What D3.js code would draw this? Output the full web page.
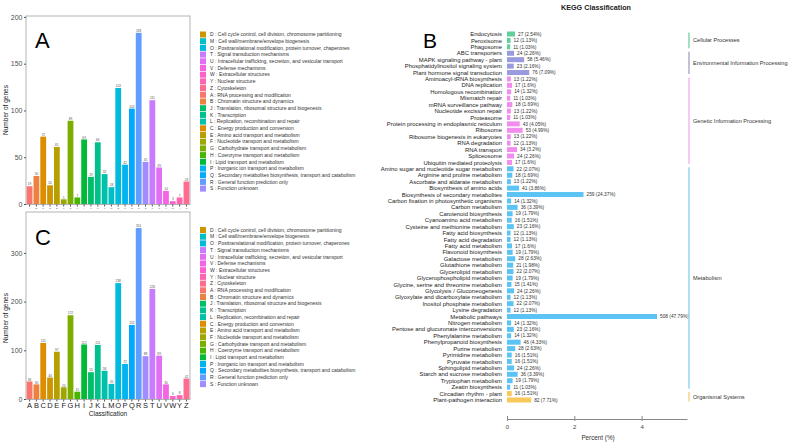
<html>
<script src='https://cdnjs.cloudflare.com/ajax/libs/d3/7.8.5/d3.min.js'></script>
<style>
body {margin:0; background:#fff;}
text {font-family: 'Liberation Sans', Arial, sans-serif;}
</style>
<body onload='init()'>
<svg width=793 height=444></svg>
<script>
// COG classes
var cogLetters = ["A","B","C","D","E","F","G","H","I","J","K","L","M","O","P","Q","R","S","T","U","V","W","Y","Z"];
var cogA = [19,30,72,20,61,5,89,7,69,29,66,32,18,124,42,102,183,45,111,39,14,3,7,24];
var cogC = [36,30,115,44,97,24,172,15,112,55,111,58,31,238,72,152,351,88,226,89,30,6,8,42];
var legendOrder = ["D","M","O","T","U","V","W","Y","Z","A","B","J","K","L","C","E","F","G","H","I","P","Q","R","S"];
var cogDesc = {
  D:"Cell cycle control, cell division, chromosome partitioning",
  M:"Cell wall/membrane/envelope biogenesis",
  O:"Posttranslational modification, protein turnover, chaperones",
  T:"Signal transduction mechanisms",
  U:"Intracellular trafficking, secretion, and vesicular transport",
  V:"Defense mechanisms",
  W:"Extracellular structures",
  Y:"Nuclear structure",
  Z:"Cytoskeleton",
  A:"RNA processing and modification",
  B:"Chromatin structure and dynamics",
  J:"Translation, ribosomal structure and biogenesis",
  K:"Transcription",
  L:"Replication, recombination and repair",
  C:"Energy production and conversion",
  E:"Amino acid transport and metabolism",
  F:"Nucleotide transport and metabolism",
  G:"Carbohydrate transport and metabolism",
  H:"Coenzyme transport and metabolism",
  I:"Lipid transport and metabolism",
  P:"Inorganic ion transport and metabolism",
  Q:"Secondary metabolites biosynthesis, transport and catabolism",
  R:"General function prediction only",
  S:"Function unknown"
};
var ticksA = [0,50,100,150,200];
var ticksC = [0,100,200,300];

// KEGG
var keggNames = ["Endocytosis","Peroxisome","Phagosome",
 "ABC transporters","MAPK signaling pathway - plant","Phosphatidylinositol signaling system","Plant hormone signal transduction",
 "Aminoacyl-tRNA biosynthesis","DNA replication","Homologous recombination","Mismatch repair","mRNA surveillance pathway","Nucleotide excision repair","Proteasome","Protein processing in endoplasmic reticulum","Ribosome","Ribosome biogenesis in eukaryotes","RNA degradation","RNA transport","Spliceosome","Ubiquitin mediated proteolysis",
 "Amino sugar and nucleotide sugar metabolism","Arginine and proline metabolism","Ascorbate and aldarate metabolism","Biosynthesis of amino acids","Biosynthesis of secondary metabolites","Carbon fixation in photosynthetic organisms","Carbon metabolism","Carotenoid biosynthesis","Cyanoamino acid metabolism","Cysteine and methionine metabolism","Fatty acid biosynthesis","Fatty acid degradation","Fatty acid metabolism","Flavonoid biosynthesis","Galactose metabolism","Glutathione metabolism","Glycerolipid metabolism","Glycerophospholipid metabolism","Glycine, serine and threonine metabolism","Glycolysis / Gluconeogenesis","Glyoxylate and dicarboxylate metabolism","Inositol phosphate metabolism","Lysine degradation","Metabolic pathways","Nitrogen metabolism","Pentose and glucuronate interconversions","Phenylalanine metabolism","Phenylpropanoid biosynthesis","Purine metabolism","Pyrimidine metabolism","Pyruvate metabolism","Sphingolipid metabolism","Starch and sucrose metabolism","Tryptophan metabolism","Zeatin biosynthesis",
 "Circadian rhythm - plant","Plant-pathogen interaction"];
var keggCounts = [27,12,11, 24,58,23,76, 13,17,14,11,18,13,11,43,53,13,12,34,24,17,
 22,18,13,41,259,14,36,19,16,23,12,12,17,19,28,21,22,19,15,24,12,22,12,508,14,23,14,46,28,16,16,24,36,19,11, 16,82];
var keggPct = [2.54,1.13,1.03, 2.26,5.46,2.16,7.09, 1.22,1.6,1.32,1.03,1.69,1.22,1.03,4.05,4.99,1.22,1.13,3.2,2.26,1.6,
 2.07,1.69,1.22,3.86,24.37,1.32,3.39,1.79,1.51,2.16,1.13,1.13,1.6,1.79,2.63,1.98,2.07,1.79,1.41,2.26,1.13,2.07,1.13,47.79,1.32,2.16,1.32,4.33,2.63,1.51,1.51,2.26,3.39,1.79,1.03, 1.51,7.71];
var groupNames = ["Cellular Processes","Environmental Information Processing","Genetic Information Processing","Metabolism","Organismal Systems"];
var groupSizes = [3,4,14,35,2];
var percentTicks = [0,2,4];

var groupBar = ["#5fcf9c","#9a9ade","#f28df0","#5cc4f4","#f9c85a"];
var groupLine = ["#8ed6b4","#b4b4c8","#f2bff0","#9dd9f0","#f5d690"];

// ggplot-like hue colour (polar LUV -> sRGB)
function hclLuv(h, c, l) {
  var hr = h * Math.PI / 180, u = c * Math.cos(hr), v = c * Math.sin(hr);
  var Xn = 0.95047, Yn = 1, Zn = 1.08883;
  var un = 4*Xn/(Xn+15*Yn+3*Zn), vn = 9*Yn/(Xn+15*Yn+3*Zn);
  var Y = l > 8 ? Math.pow((l+16)/116, 3) : l/903.3;
  var up = u/(13*l) + un, vp = v/(13*l) + vn;
  var X = 9*Y*up/(4*vp), Z = Y*(12 - 3*up - 20*vp)/(4*vp);
  var lin = [3.2404542*X - 1.5371385*Y - 0.4985314*Z,
            -0.9692660*X + 1.8760108*Y + 0.0415560*Z,
             0.0556434*X - 0.2040259*Y + 1.0572252*Z];
  var rgb = lin.map(function(x){
    x = x <= 0.0031308 ? 12.92*x : 1.055*Math.pow(x, 1/2.4) - 0.055;
    return Math.max(0, Math.min(255, Math.round(x*255)));
  });
  return d3.rgb(rgb[0], rgb[1], rgb[2]).formatHex();
}

async function init() {
var svg = d3.select("svg");
var n = cogLetters.length;
var cogColor = {};
cogLetters.forEach(function(k, i){ cogColor[k] = hclLuv(15 + 360*i/n, 100, 65); });

var x = d3.scaleBand().domain(cogLetters).range([26,190]).paddingInner(0.15).paddingOuter(0.1);

function cogPanel(vals, ticks, yScale, top, bottom, showLetters, letter, letterY, titleY, legTop) {
  var g = svg.append("g");
  g.append("rect").attr("x",26).attr("y",top).attr("width",164).attr("height",bottom-top)
    .attr("fill","#fff").attr("stroke","#a0a0a0").attr("stroke-width",0.8);
  g.selectAll(".bar").data(vals).enter().append("rect")
    .attr("x", function(d,i){ return x(cogLetters[i]); })
    .attr("width", x.bandwidth())
    .attr("y", function(d){ return yScale(d); })
    .attr("height", function(d){ return yScale(0) - yScale(d); })
    .attr("fill", function(d,i){ return cogColor[cogLetters[i]]; });
  g.selectAll(".vl").data(vals).enter().append("text")
    .attr("x", function(d,i){ return x(cogLetters[i]) + x.bandwidth()/2; })
    .attr("y", function(d){ return yScale(d) - 0.8; })
    .attr("text-anchor","middle").attr("font-size",3.2).attr("fill","#555")
    .text(function(d){ return d; });
  var ya = g.append("g").attr("transform","translate(26,0)")
    .call(d3.axisLeft(yScale).tickValues(ticks).tickSize(2).tickPadding(1.5));
  ya.select(".domain").remove();
  ya.selectAll("line").attr("stroke","#555");
  ya.selectAll("text").attr("font-size",7).attr("fill","#4d4d4d").attr("font-family","Liberation Sans, Arial");
  var xa = g.append("g").attr("transform","translate(0," + bottom + ")")
    .call(d3.axisBottom(x).tickSize(2).tickPadding(showLetters ? 1 : 0.5));
  xa.select(".domain").remove();
  xa.selectAll("line").attr("stroke","#555");
  xa.selectAll("text").attr("font-size", showLetters ? 7.5 : 2.5).attr("fill", showLetters ? "#222" : "#555")
    .attr("font-family","Liberation Sans, Arial");
  g.append("text").attr("transform","translate(8," + titleY + ") rotate(-90)")
    .attr("text-anchor","middle").attr("font-size",6.5).attr("fill","#222").text("Number of genes");
  g.append("text").attr("x",35).attr("y",letterY).attr("font-size",22).attr("fill","#000").text(letter);
  // legend
  var lg = g.append("g");
  legendOrder.forEach(function(k, i){
    var yy = legTop + i*6.7;
    lg.append("rect").attr("x",200).attr("y",yy-3).attr("width",6).attr("height",6).attr("fill",cogColor[k]);
    lg.append("text").attr("x",210).attr("y",yy+1.7).attr("font-size",5).attr("fill","#333")
      .text(k + " : " + cogDesc[k]);
  });
}

var yA = d3.scaleLinear().domain([0,201]).range([204,16]);
var yC = d3.scaleLinear().domain([0,384]).range([399,212]);
cogPanel(cogA, ticksA, yA, 16, 204.5, false, "A", 48, 110, 34.5);
cogPanel(cogC, ticksC, yC, 212, 399.5, true, "C", 245, 318, 230);
svg.append("text").attr("x",108).attr("y",416).attr("text-anchor","middle")
  .attr("font-size",6.5).attr("fill","#222").text("Classification");

// KEGG panel
var groupOf = [];
groupSizes.forEach(function(s, gi){ for (var j=0;j<s;j++) groupOf.push(gi); });
var y = d3.scaleBand().domain(keggNames).range([30.8, 403.2]).paddingInner(0.22).paddingOuter(0.11);
var xp = d3.scaleLinear().domain([0,47.79]).range([507,657]);
var kg = svg.append("g");
kg.append("text").attr("x",596).attr("y",10).attr("text-anchor","middle").attr("font-size",7.2)
  .attr("font-weight","bold").attr("fill","#222").text("KEGG Classification");
kg.append("text").attr("x",423).attr("y",48).attr("font-size",21).attr("fill","#000").text("B");
kg.selectAll(".kb").data(keggPct).enter().append("rect")
  .attr("x", xp(0)).attr("y", function(d,i){ return y(keggNames[i]); })
  .attr("width", function(d){ return xp(d) - xp(0); }).attr("height", y.bandwidth())
  .attr("fill", function(d,i){ return groupBar[groupOf[i]]; });
kg.selectAll(".kn").data(keggNames).enter().append("text")
  .attr("x",502).attr("y", function(d){ return y(d) + y.bandwidth()/2 + 2.1; })
  .attr("text-anchor","end").attr("font-size",5.9).attr("fill","#222").text(function(d){ return d; });
kg.selectAll(".kv").data(keggPct).enter().append("text")
  .attr("x", function(d){ return xp(d) + 3; })
  .attr("y", function(d,i){ return y(keggNames[i]) + y.bandwidth()/2 + 1.7; })
  .attr("font-size",4.8).attr("fill","#333")
  .text(function(d,i){ return keggCounts[i] + " (" + d + "%)"; });
var ax = d3.scaleLinear().domain([0,5.35]).range([507,687]);
var xa = kg.append("g").attr("transform","translate(0,419)")
  .call(d3.axisBottom(ax).tickValues(percentTicks).tickFormat(d3.format("d")).tickSize(3).tickPadding(3).tickSizeOuter(0));
xa.select(".domain").attr("stroke","#888");
xa.selectAll("line").attr("stroke","#888").attr("y1",-3).attr("y2",2);
xa.selectAll("text").attr("font-size",6).attr("fill","#444").attr("font-family","Liberation Sans, Arial");
kg.append("text").attr("x",598).attr("y",440).attr("text-anchor","middle").attr("font-size",6.3)
  .attr("fill","#333").text("Percent (%)");
// group brackets
var start = 0;
groupSizes.forEach(function(s, gi){
  var y0 = y(keggNames[start]), y1 = y(keggNames[start+s-1]) + y.bandwidth();
  kg.append("line").attr("x1",689).attr("x2",689).attr("y1",y0+1).attr("y2",y1-1)
    .attr("stroke",groupLine[gi]).attr("stroke-width",1.6);
  kg.append("text").attr("x",693).attr("y",(y0+y1)/2 + 2).attr("font-size",5.6).attr("fill","#333")
    .text(groupNames[gi]);
  start += s;
});
}
</script>
</body>
</html>
